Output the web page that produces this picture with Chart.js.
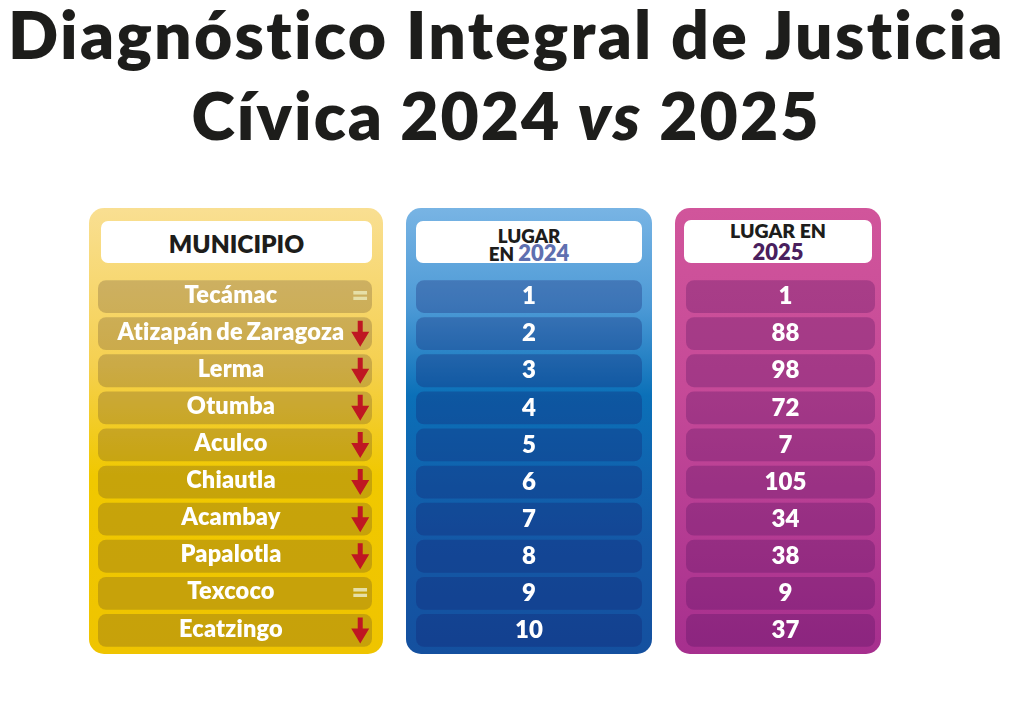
<!DOCTYPE html>
<html lang="es">
<head>
<meta charset="utf-8">
<title>Diagnóstico Integral de Justicia Cívica</title>
<script src="https://cdn.jsdelivr.net/npm/chart.js@4"></script>
<style>
    html, body { margin: 0; padding: 0; background: #fff; overflow: hidden; }
    body { width: 1024px; height: 704px; position: relative; font-family: Lato, sans-serif; color: #1d1d1b; }
    h1 { position: absolute; left: 0; top: 0; width: 1024px; margin: 0; text-align: center; font-size: 66px; line-height: 78px; font-weight: 800; letter-spacing: 2.3px; }
    h1 div { height: 78px; white-space: nowrap; }
    h1 .l1 { position: absolute; left: 0; top: -5px; width: 1013px; }
    h1 .l2 { position: absolute; left: 0; top: 76px; width: 1012px; letter-spacing: 2px; word-spacing: -1px; }
    h1 em { font-style: italic; font-weight: 800; letter-spacing: 3px; }
    .card { position: absolute; top: 208px; height: 446px; border-radius: 15px; }
    .head { position: absolute; top: 221px; height: 42px; background: #fff; border-radius: 7px; text-align: center; font-weight: 800; color: #1d1d1b; }
    .plot { position: absolute; top: 278px; height: 371px; }
    #card-mun { left: 89px; width: 294px; background: linear-gradient(#f9df92 0%, #f5d050 35%, #f0c800 60%, #efc400 100%); }
    #card-24 { left: 406px; width: 246px; background: linear-gradient(#78b4e4 0%, #4d9ad6 22%, #0b70b8 42%, #1458a6 75%, #14509f 100%); }
    #card-25 { left: 675px; width: 206px; background: linear-gradient(#d1559b 0%, #c64a98 40%, #a62f8e 100%); }
    #head-mun { left: 101px; width: 271px; font-size: 24.5px; line-height: 46px; }
    #head-24 { left: 416px; width: 226px; font-size: 18.8px; line-height: 17px; padding-top: 6px; height: 36px; }
    #head-25 { left: 684px; width: 188px; font-size: 19.5px; line-height: 21px; margin-top: -1px; height: 43px; }
    #head-24 span { color: #5f70b0; font-size: 22px; }
    #head-25 span { color: #4a1f5e; font-size: 22px; }
    #plot-mun { left: 98px; width: 274px; }
    #plot-24 { left: 416px; width: 226px; }
    #plot-25 { left: 686px; width: 189px; }
</style>
</head>
<body>
<h1><div class="l1">Diagnóstico Integral de Justicia</div><div class="l2">Cívica 2024 <em>vs</em> 2025</div></h1>

<div class="card" id="card-mun"></div>
<div class="card" id="card-24"></div>
<div class="card" id="card-25"></div>

<div class="head" id="head-mun">MUNICIPIO</div>
<div class="head" id="head-24">LUGAR<br>EN <span>2024</span></div>
<div class="head" id="head-25">LUGAR EN<br><span>2025</span></div>

<div class="plot" id="plot-mun"><canvas id="chart-mun"></canvas></div>
<div class="plot" id="plot-24"><canvas id="chart-24"></canvas></div>
<div class="plot" id="plot-25"><canvas id="chart-25"></canvas></div>

<script>
const municipios = ['Tecámac', 'Atizapán de Zaragoza', 'Lerma', 'Otumba', 'Aculco', 'Chiautla', 'Acambay', 'Papalotla', 'Texcoco', 'Ecatzingo'];
const lugar2024 = [1, 2, 3, 4, 5, 6, 7, 8, 9, 10];
const lugar2025 = [1, 88, 98, 72, 7, 105, 34, 38, 9, 37];
const tendencia = ['=', '↓', '↓', '↓', '↓', '↓', '↓', '↓', '=', '↓'];

// every row is a full width pill, the label is what carries the value
const fullRow = municipios.map(() => 1);

const rowLabels = {
    id: 'rowLabels',
    afterDatasetsDraw(chart, args, opts) {
        const { ctx, scales: { x, y } } = chart;
        ctx.save();
        ctx.fillStyle = '#fff';
        ctx.textAlign = 'center';
        ctx.textBaseline = 'middle';
        ctx.font = opts.font;
        ctx.letterSpacing = opts.spacing;
        ctx.wordSpacing = opts.wordGap;
        const cx = (x.left + x.right) / 2 + opts.shift;
        opts.labels.forEach((label, i) => {
            ctx.fillText(String(label), cx, y.getPixelForValue(i) + opts.lift);
        });
        ctx.restore();
    }
};

const trendMarks = {
    id: 'trendMarks',
    afterDatasetsDraw(chart, args, opts) {
        if (!opts.marks) return;
        const { ctx, scales: { x, y } } = chart;
        const cx = x.getPixelForValue(0.957);
        opts.marks.forEach((mark, i) => {
            const cy = y.getPixelForValue(i);
            ctx.save();
            if (mark === '=') {
                ctx.fillStyle = '#e6dfa6';
                ctx.font = '800 30px Lato, sans-serif';
                ctx.textAlign = 'center';
                ctx.textBaseline = 'middle';
                ctx.fillText(mark, cx, cy);
            } else {
                // red down arrow
                ctx.fillStyle = '#bf1722';
                ctx.beginPath();
                ctx.moveTo(cx - 2.5, cy - 13);
                ctx.lineTo(cx + 2.5, cy - 13);
                ctx.lineTo(cx + 2.5, cy - 2);
                ctx.lineTo(cx + 9, cy - 2);
                ctx.lineTo(cx, cy + 13);
                ctx.lineTo(cx - 9, cy - 2);
                ctx.lineTo(cx - 2.5, cy - 2);
                ctx.closePath();
                ctx.fill();
            }
            ctx.restore();
        });
    }
};

function makeTable(canvasId, labels, rowColor, font, spacing, wordGap, shift, lift, marks) {
    return new Chart(document.getElementById(canvasId), {
        type: 'bar',
        data: {
            labels: municipios,
            datasets: [{
                data: fullRow,
                backgroundColor: rowColor,
                borderRadius: 8,
                borderSkipped: false,
                barPercentage: 1,
                categoryPercentage: 0.885
            }]
        },
        plugins: [rowLabels, trendMarks],
        options: {
            indexAxis: 'y',
            responsive: true,
            maintainAspectRatio: false,
            animation: false,
            layout: { padding: 0 },
            scales: {
                x: { display: false, min: 0, max: 1 },
                y: { display: false }
            },
            plugins: {
                legend: { display: false },
                tooltip: { enabled: false },
                rowLabels: { labels, font, spacing, wordGap, shift, lift },
                trendMarks: { marks }
            }
        }
    });
}

makeTable('chart-mun', municipios, 'rgba(70, 50, 40, 0.24)', '800 23.5px Lato, sans-serif', '0.2px', '-2px', -4, -1.5, tendencia);
makeTable('chart-24', lugar2024, 'rgba(20, 30, 110, 0.3)', '800 24px Lato, sans-serif', '0px', '0px', 0, 0);
makeTable('chart-25', lugar2025, 'rgba(70, 10, 90, 0.27)', '800 24px Lato, sans-serif', '0px', '0px', 5, 0);
</script>
</body>
</html>
